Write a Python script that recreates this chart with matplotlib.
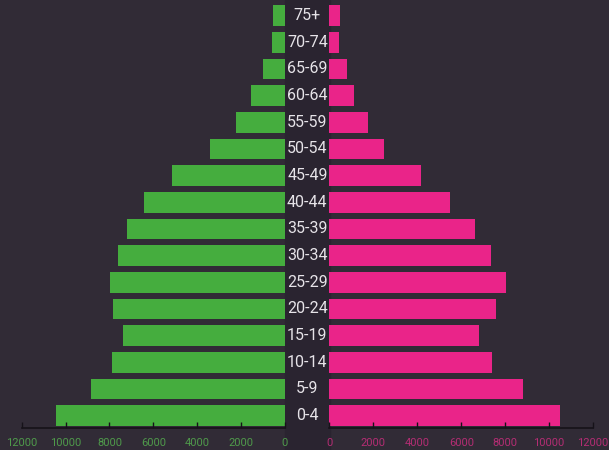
"""Population pyramid: males (green) on the left, females (pink) on the right."""

import matplotlib
matplotlib.use("Agg")
import matplotlib.pyplot as plt
import matplotlib.transforms as mtransforms
from matplotlib.patches import Rectangle

# Age groups, bottom to top
age_groups = ["0-4", "5-9", "10-14", "15-19", "20-24", "25-29", "30-34", "35-39",
              "40-44", "45-49", "50-54", "55-59", "60-64", "65-69", "70-74", "75+"]

male = [10450, 8850, 7900, 7400, 7830, 7980, 7630, 7200,
        6420, 5150, 3420, 2230, 1550, 1020, 590, 530]
female = [10500, 8820, 7420, 6810, 7590, 8020, 7360, 6630,
          5490, 4170, 2480, 1750, 1120, 780, 450, 480]

ticks = [0, 2000, 4000, 6000, 8000, 10000, 12000]

BG = "#312b36"
GREEN = "#45ad3e"
PINK = "#ea2489"


def style_axis(ax, label_color):
    """Keep only the bottom spine, with short inward ticks."""
    for side in ("top", "left", "right"):
        ax.spines[side].set_visible(False)
    ax.spines["bottom"].set_color("#161219")
    ax.spines["bottom"].set_linewidth(1.2)
    ax.set_facecolor("none")
    ax.set_yticks([])
    ax.set_xticks(ticks)
    ax.set_xticklabels([str(t) for t in ticks], family=["Roboto", "DejaVu Sans"])
    ax.tick_params(axis="x", direction="in", length=4, width=1, color="#161219",
                   labelcolor=label_color, labelsize=8, pad=7)
    ax.set_ylim(-0.466, len(age_groups) - 1 + 0.586)


fig = plt.figure(figsize=(6.09, 4.5), dpi=100)
fig.patch.set_facecolor(BG)

# darker strip behind the age labels
fig.patches.append(Rectangle((285 / 609, 0), (329.5 - 285) / 609, 1,
                             transform=fig.transFigure, color="#2a2430", zorder=-1))

ax_l = fig.add_axes([21.6 / 609, 1 - 428 / 450, (285 - 21.6) / 609, 428 / 450])
ax_r = fig.add_axes([329.5 / 609, 1 - 428 / 450, (593 - 329.5) / 609, 428 / 450])

y = list(range(len(age_groups)))
ax_l.barh(y, male, height=0.77, color=GREEN)
ax_l.set_xlim(12000, 0)
style_axis(ax_l, "#4f9a4b")

ax_r.barh(y, female, height=0.77, color=PINK)
ax_r.set_xlim(0, 12000)
style_axis(ax_r, "#b52d74")

# age group labels in the middle
trans = mtransforms.blended_transform_factory(fig.transFigure, ax_l.transData)
for yi, label in zip(y, age_groups):
    fig.text((285 + 329.5) / 2 / 609, yi, label, transform=trans, ha="center",
             va="center", color="#e6e3e8", fontsize=11.5,
             family=["Roboto", "DejaVu Sans"])

fig.savefig("out.png", dpi=100, facecolor=BG)
